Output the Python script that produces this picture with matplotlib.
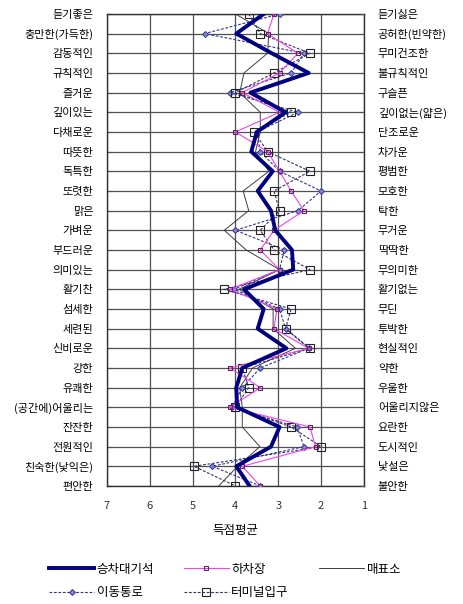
import numpy as np
import matplotlib.pyplot as plt

plt.rcParams['font.family'] = ['Noto Sans CJK KR', 'DejaVu Sans']

left_words = ["듣기좋은", "충만한(가득한)", "감동적인", "규칙적인", "즐거운", "깊이있는",
              "다채로운", "따뜻한", "독특한", "또렷한", "맑은", "가벼운", "부드러운",
              "의미있는", "활기찬", "섬세한", "세련된", "신비로운", "강한", "유쾌한",
              "(공간에)어울리는", "잔잔한", "전원적인", "친숙한(낯익은)", "편안한"]
right_words = ["듣기싫은", "공허한(빈약한)", "무미건조한", "불규칙적인", "구슬픈",
               "깊이없는(얇은)", "단조로운", "차가운", "평범한", "모호한", "탁한", "무거운",
               "딱딱한", "무의미한", "활기없는", "무딘", "투박한", "현실적인", "약한",
               "우울한", "어울리지않은", "요란한", "도시적인", "낯설은", "불안한"]

# mean scores per adjective pair, one list per place
seat = [3.34, 3.98, 3.15, 2.29, 3.65, 2.83, 3.5, 3.63, 3.13, 3.48, 3.17, 3.07, 2.68,
        2.65, 3.8, 3.34, 3.48, 2.81, 3.84, 3.98, 3.96, 2.97, 3.17, 3.98, 3.67]
dropoff = [3.1, 3.25, 2.54, 2.97, 3.84, 2.97, 4.0, 3.25, 2.97, 2.7, 2.4, 3.1, 3.42,
           2.97, 4.13, 3.03, 3.1, 2.29, 4.13, 3.42, 4.13, 2.26, 2.13, 3.84, 3.42]
ticket = [4.0, 3.22, 3.25, 3.8, 3.9, 3.42, 3.42, 3.53, 3.22, 3.82, 3.69, 4.26, 3.75,
          2.97, 3.92, 3.12, 3.12, 2.6, 3.6, 3.9, 3.84, 3.84, 3.43, 3.95, 4.39]
passage = [2.97, 4.72, 2.4, 2.7, 4.13, 2.54, 3.5, 3.42, 2.97, 2.0, 2.54, 4.0, 2.86,
           2.97, 4.04, 2.97, 2.83, 2.29, 3.42, 3.84, 4.08, 2.56, 2.4, 4.54, 3.42]
entrance = [3.69, 3.42, 2.26, 3.1, 4.0, 2.7, 3.56, 3.25, 2.26, 3.1, 2.97, 3.42, 3.1,
            2.26, 4.27, 2.7, 2.83, 2.26, 3.84, 3.69, 4.0, 2.7, 2.0, 4.97, 4.0]

names = ["승차대기석", "하차장", "매표소", "이동통로", "터미널입구"]

rows = np.arange(len(left_words))

fig = plt.figure(figsize=(4.63, 6.04), dpi=100)
ax = fig.add_axes([0.231, 0.1954, 0.555, 0.7815])

grid_c = '#505050'
for v in range(1, 8):
    ax.axvline(v, color=grid_c, lw=0.9, zorder=0)
for r in rows:
    ax.axhline(r, color=grid_c, lw=0.9, zorder=0)

l_ticket, = ax.plot(ticket, rows, color='#404040', lw=0.7, zorder=2)
l_pass, = ax.plot(passage, rows, color='#333399', lw=0.8, ls=(0, (2.5, 1.5)),
                  marker='D', ms=3, mfc='#8888cc', mec='#333399', mew=0.7, zorder=3)
l_ent, = ax.plot(entrance, rows, color='#333366', lw=0.8, ls=(0, (2.5, 1.5)),
                 marker='s', ms=6, mfc='none', mec='#222222', mew=0.8, zorder=4)
l_drop, = ax.plot(dropoff, rows, color='#ee44ee', lw=0.8,
                  marker='s', ms=3.5, mfc='none', mec='#662266', mew=0.8, zorder=5)
l_seat, = ax.plot(seat, rows, color='#000080', lw=2.8, zorder=6)

ax.set_xlim(7, 1)
ax.set_ylim(24, 0)
ax.set_xticks(range(7, 0, -1))
ax.set_xticklabels([str(v) for v in range(7, 0, -1)], color='#333333', fontsize=8)
ax.tick_params(axis='x', length=0, pad=11)
ax.set_yticks(rows)
ax.set_yticklabels(left_words, fontsize=8)
ax.tick_params(axis='y', length=3, direction='in', pad=10, color=grid_c)
ax.set_xlabel("득점평균", fontsize=9, labelpad=9)
for s in ax.spines.values():
    s.set_color('#303030')
    s.set_linewidth(1.0)

ax2 = ax.twinx()
ax2.set_ylim(24, 0)
ax2.set_yticks(rows)
ax2.set_yticklabels(right_words, fontsize=8)
ax2.tick_params(axis='y', length=3, direction='in', pad=10, color=grid_c)
for s in ax2.spines.values():
    s.set_visible(False)

# legend laid out as three fixed-position columns
columns = [([l_seat, l_pass], [names[0], names[3]], 0.106),
           ([l_drop, l_ent], [names[1], names[4]], 0.397),
           ([l_ticket], [names[2]], 0.689)]
for hs, labs, x0 in columns:
    fig.legend(hs, labs, loc='upper left', bbox_to_anchor=(x0, 0.0687),
               frameon=False, fontsize=9, borderpad=0, borderaxespad=0,
               handlelength=3.6, handletextpad=0.2, labelspacing=0.85)

fig.savefig("out.png", dpi=100)
